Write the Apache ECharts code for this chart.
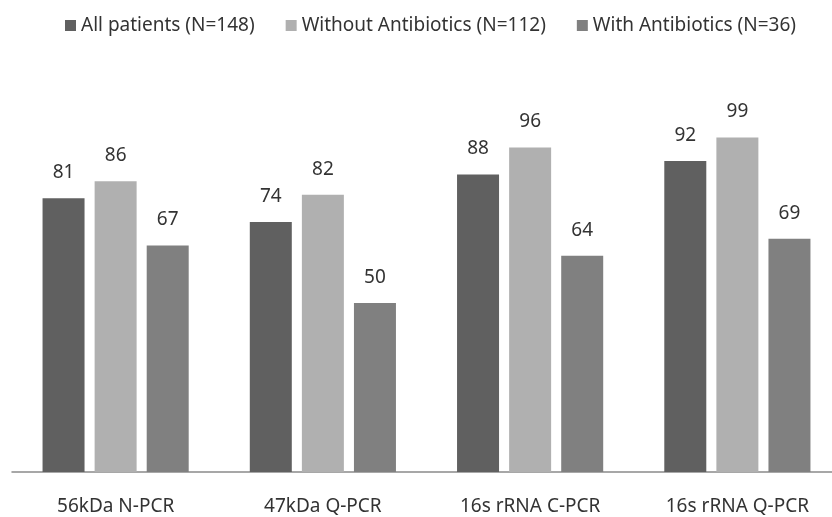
<!DOCTYPE html>
<html>
<head>
<meta charset="utf-8">
<script src="https://cdn.jsdelivr.net/npm/echarts@6/dist/echarts.min.js"></script>
<style>
  html, body { margin: 0; padding: 0; background: #fff; }
  #chart { width: 832px; height: 517px; }
</style>
</head>
<body>
<div id="chart"></div>
<script>
// data
var categories = ['56kDa N-PCR', '47kDa Q-PCR', '16s rRNA C-PCR', '16s rRNA Q-PCR'];
var seriesNames = ['All patients (N=148)', 'Without Antibiotics (N=112)', 'With Antibiotics (N=36)'];
var allPatients = [81, 74, 88, 92];
var withoutAntibiotics = [86, 82, 96, 99];
var withAntibiotics = [67, 50, 64, 69];

var myChart = echarts.init(document.getElementById('chart'));

var fontName = '"Noto Sans", "DejaVu Sans", sans-serif';
var labelStyle = {
    show: true,
    position: 'top',
    distance: 16,
    color: '#333',
    fontSize: 19,
    fontFamily: fontName
};

myChart.setOption({
    animation: false,
    color: ['#606060', '#b0b0b0', '#808080'],
    legend: {
        left: 60,
        top: 11,
        itemWidth: 11,
        itemHeight: 11,
        itemGap: 31,
        icon: 'rect',
        textStyle: { color: '#333', fontSize: 19, fontFamily: fontName },
        data: seriesNames
    },
    grid: {
        left: 12,
        width: 829,
        top: 134,
        bottom: 45,
        outerBoundsMode: 'none'
    },
    xAxis: {
        type: 'category',
        data: categories,
        axisTick: { show: false },
        axisLine: { lineStyle: { color: '#8a8a8a', width: 1.5 } },
        axisLabel: { color: '#333', fontSize: 19, fontFamily: fontName, margin: 25 }
    },
    yAxis: {
        type: 'value',
        min: 0,
        max: 100,
        show: false,
        splitLine: { show: false }
    },
    series: [
        { name: seriesNames[0], type: 'bar', barWidth: 42, barGap: '24%', label: labelStyle, data: allPatients },
        { name: seriesNames[1], type: 'bar', barWidth: 42, barGap: '24%', label: labelStyle, data: withoutAntibiotics },
        { name: seriesNames[2], type: 'bar', barWidth: 42, barGap: '24%', label: labelStyle, data: withAntibiotics }
    ]
});
</script>
</body>
</html>
